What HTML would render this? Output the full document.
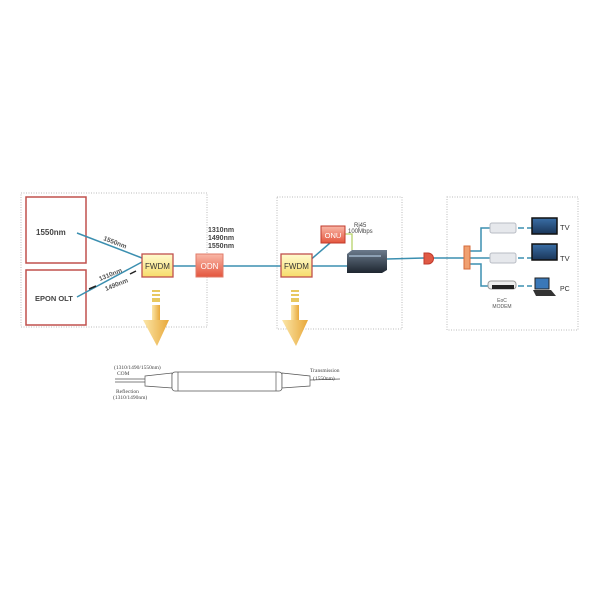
<!DOCTYPE html>
<html><head><meta charset="utf-8"><style>
body{margin:0;background:#fff;}
svg{display:block;font-family:"Liberation Sans",sans-serif;}
</style></head><body>
<svg width="600" height="600" viewBox="0 0 600 600">
<defs>
<linearGradient id="y" x1="0" y1="0" x2="0" y2="1"><stop offset="0" stop-color="#fffbd0"/><stop offset="1" stop-color="#f7dc6a"/></linearGradient>
<linearGradient id="r" x1="0" y1="0" x2="0" y2="1"><stop offset="0" stop-color="#f9b8a8"/><stop offset="1" stop-color="#e4553d"/></linearGradient>
<linearGradient id="ar" x1="0" y1="0" x2="1" y2="0"><stop offset="0" stop-color="#fbe6a8"/><stop offset="1" stop-color="#e8a83a"/></linearGradient>
<linearGradient id="sv" x1="0" y1="0" x2="0" y2="1"><stop offset="0" stop-color="#6b7a8c"/><stop offset="1" stop-color="#1e2630"/></linearGradient>
<linearGradient id="tv" x1="0" y1="0" x2="0" y2="1"><stop offset="0" stop-color="#3a6fa8"/><stop offset="1" stop-color="#1a3558"/></linearGradient>
</defs>
<rect x="21" y="193" width="186" height="134" fill="none" stroke="#bbb" stroke-dasharray="1,1.5"/>
<rect x="277" y="197" width="125" height="132" fill="none" stroke="#bbb" stroke-dasharray="1,1.5"/>
<rect x="447" y="197" width="131" height="133" fill="none" stroke="#bbb" stroke-dasharray="1,1.5"/>
<rect x="26" y="197" width="60" height="66" fill="#fff" stroke="#c0504d" stroke-width="1.5"/>
<rect x="26" y="270" width="60" height="55" fill="#fff" stroke="#c0504d" stroke-width="1.5"/>
<text x="36" y="235" font-size="8" font-weight="bold" fill="#444">1550nm</text>
<text x="35" y="301" font-size="7.5" font-weight="bold" fill="#444">EPON OLT</text>
<g stroke="#3b8fb0" stroke-width="1.5" fill="none">
<line x1="77" y1="233" x2="142" y2="258"/>
<line x1="77" y1="297" x2="142" y2="262"/>
<line x1="173" y1="266" x2="196" y2="266"/>
<line x1="223" y1="266" x2="281" y2="266"/>
<line x1="312" y1="266" x2="347" y2="266"/>
<line x1="308" y1="262" x2="330" y2="243"/>
<line x1="387" y1="259" x2="424" y2="258"/>
<line x1="432" y1="258" x2="464" y2="258"/>
<polyline points="470,251 481,251 481,228 490,228"/>
<line x1="470" y1="258" x2="490" y2="258"/>
<polyline points="470,264 481,264 481,286 490,286"/>
<line x1="518" y1="228" x2="532" y2="228" stroke-dasharray="6,3"/>
<line x1="518" y1="258" x2="532" y2="258" stroke-dasharray="6,3"/>
<line x1="518" y1="286" x2="532" y2="286" stroke-dasharray="6,3"/>
</g>
<polyline points="339,234 352,234 352,250" stroke="#b6d36a" stroke-width="1.3" fill="none"/>
<text x="103" y="240" font-size="6.5" font-weight="bold" fill="#555" transform="rotate(21 103 240)">1550nm</text>
<text x="100" y="281" font-size="6.5" font-weight="bold" fill="#555" transform="rotate(-22 100 281)">1310nm</text>
<text x="106" y="291" font-size="6.5" font-weight="bold" fill="#555" transform="rotate(-22 106 291)">1490nm</text>
<line x1="89" y1="289" x2="96" y2="286" stroke="#222" stroke-width="1.5"/>
<line x1="130" y1="274" x2="136" y2="271" stroke="#222" stroke-width="1.5"/>
<text x="208" y="232" font-size="7" font-weight="bold" fill="#444">1310nm</text>
<text x="208" y="240" font-size="7" font-weight="bold" fill="#444">1490nm</text>
<text x="208" y="248" font-size="7" font-weight="bold" fill="#444">1550nm</text>
<rect x="142" y="254" width="31" height="23" fill="url(#y)" stroke="#c0504d" stroke-width="1.3"/>
<text x="157.5" y="269" font-size="8" text-anchor="middle" fill="#333">FWDM</text>
<rect x="196" y="254" width="27" height="23" fill="url(#r)" stroke="#e07b6a" stroke-width="1"/>
<text x="209.5" y="269" font-size="8" text-anchor="middle" fill="#fff">ODN</text>
<rect x="281" y="254" width="31" height="23" fill="url(#y)" stroke="#c0504d" stroke-width="1.3"/>
<text x="296.5" y="269" font-size="8" text-anchor="middle" fill="#333">FWDM</text>
<rect x="321" y="226" width="24" height="17" fill="url(#r)" stroke="#c0392b" stroke-width="1"/>
<text x="333" y="238" font-size="7.5" text-anchor="middle" fill="#fff">ONU</text>
<text x="354" y="227" font-size="6" fill="#444">Rj45</text>
<text x="348" y="233" font-size="6" fill="#444">100Mbps</text>
<polygon points="347,254 352,250 387,250 387,270 382,273 347,273" fill="url(#sv)"/>
<rect x="349" y="255" width="32" height="2" fill="#8da0b4"/>
<path d="M424,253 L428,253 A5,5 0 0 1 428,264 L424,264 Z" fill="#e05a45" stroke="#c0392b"/>
<rect x="464" y="246" width="6" height="23" fill="#f0a070" stroke="#d46a3a"/>
<rect x="490" y="223" width="26" height="10" rx="2" fill="#e6e8ec" stroke="#b8bcc4"/>
<rect x="490" y="253" width="26" height="10" rx="2" fill="#e6e8ec" stroke="#b8bcc4"/>
<rect x="488" y="281" width="28" height="8" rx="3" fill="#eee" stroke="#999"/>
<rect x="492" y="285" width="22" height="4" fill="#222"/>
<rect x="532" y="218" width="25" height="16" fill="url(#tv)" stroke="#111" stroke-width="1.5"/>
<rect x="532" y="244" width="25" height="16" fill="url(#tv)" stroke="#111" stroke-width="1.5"/>
<rect x="535" y="278" width="14" height="11" fill="#3a78b8" stroke="#222"/>
<polygon points="533,290 551,290 556,296 536,296" fill="#333"/>
<text x="560" y="230" font-size="7.5" fill="#333">TV</text>
<text x="560" y="261" font-size="7.5" fill="#333">TV</text>
<text x="560" y="291" font-size="7" fill="#333">PC</text>
<text x="502" y="302" font-size="5" text-anchor="middle" fill="#555">EoC</text>
<text x="502" y="308" font-size="5" text-anchor="middle" fill="#555">MODEM</text>
<g>
<rect x="152" y="290" width="8" height="2" fill="#e8c860"/>
<rect x="152" y="294" width="8" height="2" fill="#e8c860"/>
<rect x="152" y="298" width="8" height="4" fill="#e8c860"/>
<rect x="152" y="305" width="8" height="15" fill="url(#ar)"/>
<polygon points="143,320 169,320 157,346" fill="url(#ar)"/>
<rect x="291" y="290" width="8" height="2" fill="#e8c860"/>
<rect x="291" y="294" width="8" height="2" fill="#e8c860"/>
<rect x="291" y="298" width="8" height="4" fill="#e8c860"/>
<rect x="291" y="305" width="8" height="15" fill="url(#ar)"/>
<polygon points="282,320 308,320 296,346" fill="url(#ar)"/>
</g>
<g stroke="#555" stroke-width="0.7" fill="#fff">
<line x1="115" y1="379" x2="145" y2="379"/>
<line x1="115" y1="382" x2="145" y2="382"/>
<polygon points="145,376 172,373 172,388 145,386"/>
<rect x="172" y="372" width="110" height="19" rx="3"/>
<line x1="178" y1="372" x2="178" y2="391"/>
<line x1="276" y1="372" x2="276" y2="391"/>
<polygon points="282,373 310,376 310,386 282,388"/>
<line x1="310" y1="380" x2="340" y2="379"/>
</g>
<g font-family="Liberation Serif,serif" font-size="5.5" fill="#444">
<text x="114" y="369">(1310/1490/1550nm)</text>
<text x="117" y="375">COM</text>
<text x="116" y="393">Reflection</text>
<text x="113" y="399">(1310/1490nm)</text>
<text x="310" y="372">Transmission</text>
<text x="313" y="380">(1550nm)</text>
</g>
</svg>
</body></html>
